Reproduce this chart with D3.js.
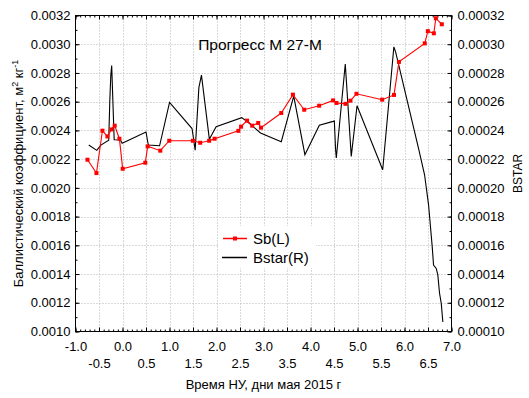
<!DOCTYPE html>
<html lang="ru">
<head>
<meta charset="UTF-8">
<title>Прогресс М 27-М</title>
<script src="https://cdn.jsdelivr.net/npm/d3@7"></script>
<style>
  body { margin: 0; background: #fff; }
  svg { display: block; font-family: "Liberation Sans", Arial, sans-serif; }
</style>
</head>
<body>
<svg id="chart" width="529" height="398"></svg>
<script>
// Sb(L): ballistic coefficient, m^2/kg (left axis)
const sbDays = [-0.745, -0.554, -0.427, -0.321, -0.236, -0.166, -0.066, 0.004, 0.485, 0.535,
  0.804, 0.995, 1.498, 1.653, 1.844, 1.960, 2.465, 2.523, 2.650, 2.760, 2.888, 2.947,
  3.378, 3.626, 3.866, 4.184, 4.481, 4.553, 4.744, 4.850, 4.978, 5.525, 5.776, 5.882,
  6.431, 6.497, 6.624, 6.667, 6.794];
const sbValues = [0.002196, 0.002103, 0.002398, 0.002358, 0.002407, 0.002433, 0.002342, 0.002133, 0.002175, 0.002289,
  0.002259, 0.002328, 0.002328, 0.002314, 0.002328, 0.002342, 0.002397, 0.002426, 0.002468, 0.002433, 0.002452, 0.002419,
  0.002521, 0.002649, 0.002544, 0.002572, 0.002609, 0.002591, 0.002585, 0.002607, 0.002655, 0.002614, 0.002647, 0.002877,
  0.003006, 0.003091, 0.003076, 0.003181, 0.003139];

// Bstar(R): right axis
const bstarDays = [-0.718, -0.548, -0.459, -0.293, -0.270, -0.249, -0.230, -0.177, -0.045, -0.007,
  0.500, 0.549, 0.789, 1.001, 1.479, 1.515, 1.546, 1.625, 1.680, 1.848, 1.992, 2.537, 2.671,
  2.936, 3.378, 3.643, 3.881, 4.188, 4.481, 4.507, 4.534, 4.549, 4.740, 4.867, 4.990, 5.536,
  5.774, 5.812, 6.306, 6.427, 6.512, 6.590, 6.618, 6.675, 6.709, 6.745, 6.782, 6.816];
const bstarValues = [0.0002298, 0.0002261, 0.0002298, 0.0002332, 0.0002607, 0.0002782, 0.0002851, 0.0002335, 0.0002333, 0.0002311,
  0.0002389, 0.0002298, 0.0002293, 0.0002595, 0.0002413, 0.0002335, 0.0002262, 0.0002698, 0.0002785, 0.0002339, 0.0002426, 0.0002489, 0.0002457,
  0.0002382, 0.0002321, 0.0002639, 0.0002231, 0.0002436, 0.0002463, 0.0002466, 0.0002265, 0.0002208, 0.0002862, 0.0002219, 0.0002572, 0.0002126,
  0.0002982, 0.0002945, 0.0002265, 0.0002091, 0.0001882, 0.0001589, 0.0001463, 0.0001439, 0.0001394, 0.0001268, 0.0001196, 0.0001066];

const xMajorTicks = [-1, 0, 1, 2, 3, 4, 5, 6, 7];
const xHalfTicks = [-0.5, 0.5, 1.5, 2.5, 3.5, 4.5, 5.5, 6.5];
const yLeftTicks = [0.0010, 0.0012, 0.0014, 0.0016, 0.0018, 0.0020, 0.0022, 0.0024, 0.0026, 0.0028, 0.0030, 0.0032];
const yRightTicks = [0.00010, 0.00012, 0.00014, 0.00016, 0.00018, 0.00020, 0.00022, 0.00024, 0.00026, 0.00028, 0.00030, 0.00032];

const svg = d3.select("#chart");
const plotLeft = 75.5, plotRight = 451.5, plotTop = 15.5, plotBottom = 331.5;

const x = d3.scaleLinear().domain([-1, 7]).range([plotLeft, plotRight]);
const yL = d3.scaleLinear().domain([0.0010, 0.0032]).range([plotBottom, plotTop]);
const yR = d3.scaleLinear().domain([0.00010, 0.00032]).range([plotBottom, plotTop]);

// grid
const grid = svg.append("g").attr("stroke", "#b4b4b4").attr("stroke-dasharray", "1,2");
grid.selectAll(".gx")
  .data(d3.range(-0.5, 7, 0.5))
  .enter().append("line")
  .attr("x1", d => Math.round(x(d)) + 0.5).attr("x2", d => Math.round(x(d)) + 0.5)
  .attr("y1", plotTop).attr("y2", plotBottom);
grid.selectAll(".gy")
  .data(yLeftTicks.slice(1, -1))
  .enter().append("line")
  .attr("y1", d => Math.round(yL(d)) + 0.5).attr("y2", d => Math.round(yL(d)) + 0.5)
  .attr("x1", plotLeft).attr("x2", plotRight);

// axes
function styleAxis(g) {
  g.select(".domain").remove();
  g.selectAll("line").attr("stroke", "#000");
  g.selectAll("text").attr("font-size", 13).attr("fill", "#000")
    .attr("font-family", "'Liberation Sans', Arial, sans-serif");
}
const minorX = d3.range(-1, 7.001, 0.1).map(d => +d.toFixed(1));
const minorY = d3.range(0.0010, 0.00321, 0.0001).map(d => +d.toFixed(4));
const minorYR = minorY.map(d => d / 10);

// bottom
svg.append("g").attr("transform", `translate(0,${plotBottom})`)
  .call(d3.axisBottom(x).tickValues(minorX).tickSize(-2).tickFormat("")).call(styleAxis);
svg.append("g").attr("transform", `translate(0,${plotBottom})`)
  .call(d3.axisBottom(x).tickValues(xMajorTicks).tickSize(-4).tickPadding(10).tickFormat(d => d.toFixed(1)))
  .call(styleAxis);
svg.append("g").attr("transform", `translate(0,${plotBottom})`)
  .call(d3.axisBottom(x).tickValues(xHalfTicks).tickSize(-4).tickPadding(27).tickFormat(d => d.toFixed(1)))
  .call(styleAxis);
// top
svg.append("g").attr("transform", `translate(0,${plotTop})`)
  .call(d3.axisTop(x).tickValues(minorX).tickSize(-2).tickFormat("")).call(styleAxis);
svg.append("g").attr("transform", `translate(0,${plotTop})`)
  .call(d3.axisTop(x).tickValues(xMajorTicks.concat(xHalfTicks)).tickSize(-4).tickFormat("")).call(styleAxis);
// left
svg.append("g").attr("transform", `translate(${plotLeft},0)`)
  .call(d3.axisLeft(yL).tickValues(minorY).tickSize(-2).tickFormat("")).call(styleAxis);
svg.append("g").attr("transform", `translate(${plotLeft},0)`)
  .call(d3.axisLeft(yL).tickValues(yLeftTicks).tickSize(-4).tickPadding(5).tickFormat(d3.format(".4f")))
  .call(styleAxis);
// right
svg.append("g").attr("transform", `translate(${plotRight},0)`)
  .call(d3.axisRight(yR).tickValues(minorYR).tickSize(-2).tickFormat("")).call(styleAxis);
svg.append("g").attr("transform", `translate(${plotRight},0)`)
  .call(d3.axisRight(yR).tickValues(yRightTicks).tickSize(-4).tickPadding(6).tickFormat(d3.format(".5f")))
  .call(styleAxis);

// frame
svg.append("rect")
  .attr("x", plotLeft).attr("y", plotTop)
  .attr("width", plotRight - plotLeft).attr("height", plotBottom - plotTop)
  .attr("fill", "none").attr("stroke", "#000");

// Bstar line
const bstar = bstarDays.map((d, i) => [d, bstarValues[i]]);
svg.append("path")
  .datum(bstar)
  .attr("fill", "none").attr("stroke", "#000").attr("stroke-width", 1.1)
  .attr("d", d3.line().x(d => x(d[0])).y(d => yR(d[1])));

// Sb line
const sb = sbDays.map((d, i) => [d, sbValues[i]]);
svg.append("path")
  .datum(sb)
  .attr("fill", "none").attr("stroke", "#ff0000").attr("stroke-width", 1.1)
  .attr("d", d3.line().x(d => x(d[0])).y(d => yL(d[1])));
svg.selectAll(".sbm")
  .data(sb)
  .enter().append("rect")
  .attr("x", d => x(d[0]) - 2).attr("y", d => yL(d[1]) - 2)
  .attr("width", 4).attr("height", 4)
  .attr("fill", "#ff0000");

// title
svg.append("text")
  .attr("x", 260).attr("y", 50)
  .attr("text-anchor", "middle")
  .attr("font-size", 15.5)
  .text("Прогресс М 27-М");

// legend
const legend = svg.append("g").attr("transform", "translate(218,226)");
legend.append("rect").attr("width", 98).attr("height", 42).attr("fill", "#fff");
legend.append("line").attr("x1", 5).attr("x2", 29).attr("y1", 12.5).attr("y2", 12.5)
  .attr("stroke", "#ff0000").attr("stroke-width", 1.5);
legend.append("rect").attr("x", 15).attr("y", 10.5).attr("width", 4).attr("height", 4).attr("fill", "#ff0000");
legend.append("line").attr("x1", 4).attr("x2", 29).attr("y1", 31.5).attr("y2", 31.5)
  .attr("stroke", "#000").attr("stroke-width", 1.5);
legend.append("text").attr("x", 35).attr("y", 18).attr("font-size", 15).text("Sb(L)");
legend.append("text").attr("x", 35).attr("y", 36.5).attr("font-size", 15).text("Bstar(R)");

// axis titles
svg.append("text")
  .attr("x", (plotLeft + plotRight) / 2).attr("y", 389)
  .attr("text-anchor", "middle").attr("font-size", 13)
  .text("Время НУ, дни мая 2015 г");

const yTitle = svg.append("text")
  .attr("transform", `translate(22.5,${(plotTop + plotBottom) / 2}) rotate(-90)`)
  .attr("text-anchor", "middle").attr("font-size", 13);
yTitle.append("tspan").text("Баллистический коэффициент, м");
yTitle.append("tspan").attr("font-size", 9).attr("dy", -5).text("2");
yTitle.append("tspan").attr("dy", 5).text(" кг");
yTitle.append("tspan").attr("font-size", 9).attr("dy", -5).text("-1");

svg.append("text")
  .attr("transform", `translate(521.5,${(plotTop + plotBottom) / 2}) rotate(-90)`)
  .attr("text-anchor", "middle").attr("font-size", 12)
  .text("BSTAR");
</script>
</body>
</html>
